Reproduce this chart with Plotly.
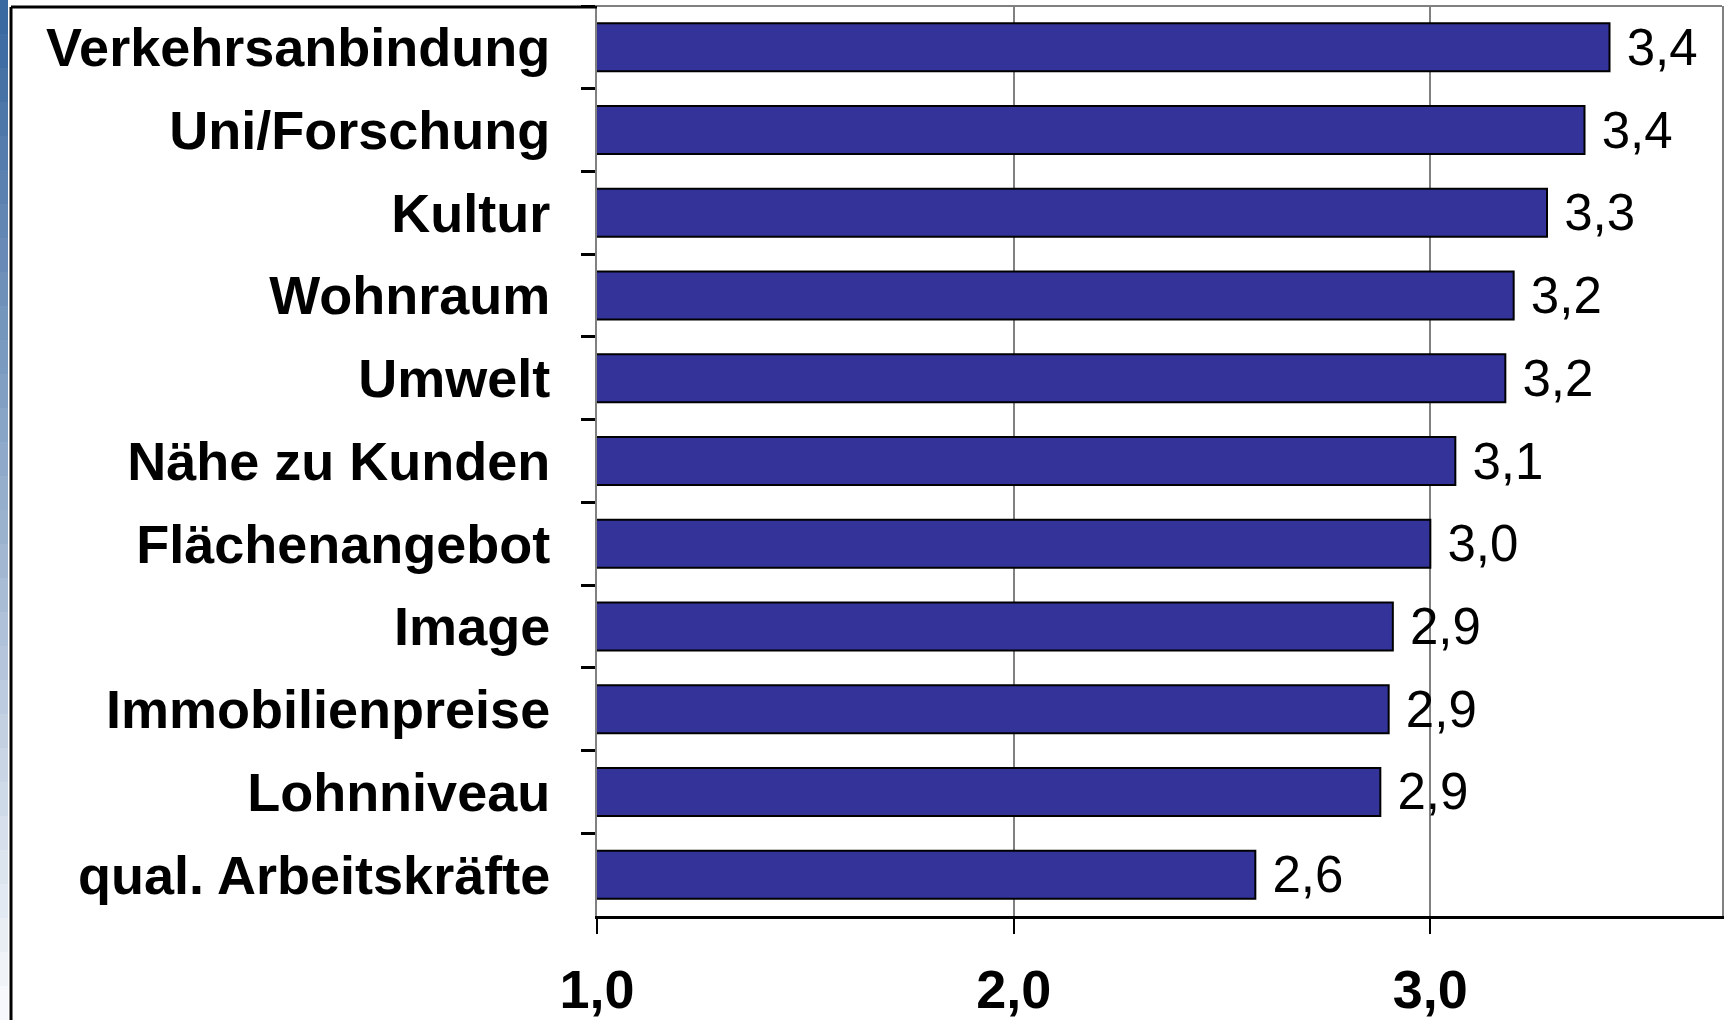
import plotly.graph_objects as go

# Standortfaktoren, von oben nach unten
kategorien = [
    "Verkehrsanbindung", "Uni/Forschung", "Kultur", "Wohnraum", "Umwelt",
    "Nähe zu Kunden", "Flächenangebot", "Image", "Immobilienpreise",
    "Lohnniveau", "qual. Arbeitskräfte",
]
bewertung = [3.43, 3.37, 3.28, 3.20, 3.18, 3.06, 3.00, 2.91, 2.90, 2.88, 2.58]
x_ticks = [1, 2, 3]

W, H = 1725, 1020
L, R, T, B = 597, 3, 6, 104
pw, ph = W - L - R, H - T - B

fig = go.Figure(go.Bar(
    x=bewertung, y=kategorien, orientation="h", base=0,
    marker=dict(color="#333399", line=dict(color="black", width=2)),
    width=0.58,
    texttemplate="\u00a0%{x:.1f}", textposition="outside",
    textfont=dict(family="Liberation Sans, Arial", size=51, color="black"),
    constraintext="none", cliponaxis=False,
))

shapes = []
# blauer Verlaufsstreifen am linken Rand
n = 30
c0, c1 = (58, 104, 160), (246, 248, 251)
for i in range(n):
    t = i / (n - 1)
    col = "rgb(%d,%d,%d)" % tuple(round(a + (b - a) * t) for a, b in zip(c0, c1))
    shapes.append(dict(type="rect", xref="paper", yref="paper",
                       x0=-L / pw, x1=(8 - L) / pw,
                       y0=1 + T / ph - (i + 1) * (H / ph) / n,
                       y1=1 + T / ph - i * (H / ph) / n,
                       fillcolor=col, line=dict(width=0), layer="below"))
# Rahmen links/oben
shapes.append(dict(type="line", xref="paper", yref="paper",
                   x0=(11 - L) / pw, x1=(11 - L) / pw, y0=-B / ph, y1=1 + (T - 7) / ph,
                   line=dict(color="black", width=3)))
shapes.append(dict(type="line", xref="paper", yref="paper",
                   x0=(11 - L) / pw, x1=0, y0=1 + (T - 7) / ph, y1=1 + (T - 7) / ph,
                   line=dict(color="black", width=3)))
shapes.append(dict(type="line", xref="paper", yref="paper",
                   x0=0, x1=1, y0=1, y1=1, line=dict(color="#808080", width=2)))

fig.update_layout(
    width=W, height=H, margin=dict(l=L, r=R, t=T, b=B, autoexpand=False),
    paper_bgcolor="white", plot_bgcolor="white",
    separators=",.", showlegend=False, bargap=0.42,
    shapes=shapes,
)
fig.update_xaxes(
    range=[1, 3.7], tickvals=x_ticks, tickformat=".1f",
    showgrid=True, gridcolor="#808080", gridwidth=2,
    showline=True, linecolor="black", linewidth=3,
    ticks="outside", ticklen=15, tickwidth=2, tickcolor="black",
    ticklabelstandoff=9, automargin=False,
    tickfont=dict(family="Liberation Sans, Arial", size=54, color="black", weight="bold"),
    zeroline=False,
)
fig.update_yaxes(
    autorange="reversed", showgrid=False, automargin=False,
    showline=True, linecolor="#808080", linewidth=2, mirror=True,
    ticks="outside", tickson="boundaries", ticklen=14, tickwidth=3, tickcolor="black",
    ticklabelstandoff=34,
    tickfont=dict(family="Liberation Sans, Arial", size=54, color="black", weight="bold"),
)

fig.write_html("out.html", config={"displayModeBar": False},
               post_script="document.body.style.margin='0';")
